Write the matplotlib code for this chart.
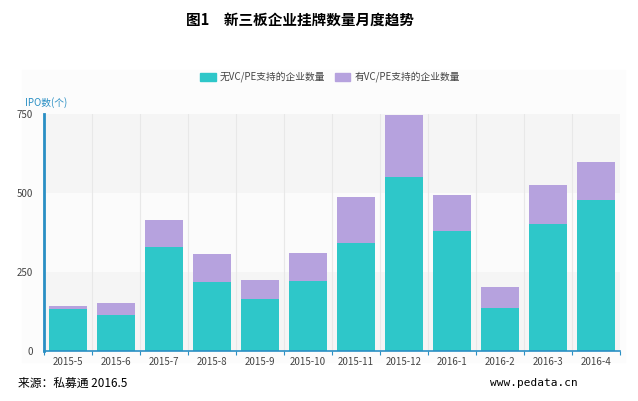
import matplotlib.pyplot as plt
import matplotlib.patches as mpatches
import numpy as np

plt.rcParams['font.family'] = ['Noto Sans CJK SC', 'DejaVu Sans']

months = ['2015-5', '2015-6', '2015-7', '2015-8', '2015-9', '2015-10',
          '2015-11', '2015-12', '2016-1', '2016-2', '2016-3', '2016-4']
no_vc = [134, 114, 328, 219, 166, 221, 342, 550, 379, 136, 401, 478]
total = [143, 151, 415, 307, 226, 310, 488, 748, 494, 203, 524, 597]
with_vc = [t - n for t, n in zip(total, no_vc)]

teal = '#2ec7c9'
purple = '#b6a2de'
axis_blue = '#2a8fc4'

fig = plt.figure(figsize=(6.38, 4.01), dpi=100)

# faint panel behind the chart
fig.patches.append(mpatches.Rectangle((22/638, 1-362/401), 603/638, 292/401,
                                      transform=fig.transFigure, color='#fcfcfc', zorder=-10))

ax = fig.add_axes([44/638, 1-351/401, 576/638, 237/401])
ax.set_facecolor('none')
x = np.arange(len(months))

# alternating bands
for lo, hi, c in [(0, 250, '#f5f5f5'), (250, 500, '#fbfbfb'), (500, 750, '#f5f5f5')]:
    ax.axhspan(lo, hi, color=c, zorder=0, lw=0)
for b in np.arange(0.5, 11.5, 1):
    ax.axvline(b, color='#e8e8e8', lw=0.8, zorder=0.5)

ax.bar(x, no_vc, width=0.8, color=teal, zorder=2)
ax.bar(x, with_vc, bottom=no_vc, width=0.8, color=purple, zorder=2)

ax.set_xlim(-0.5, 11.5)
ax.set_ylim(0, 750)
ax.set_yticks([0, 250, 500, 750])
ax.set_xticks(x)
ax.set_xticklabels(months, fontsize=7, color='#444444')
ax.tick_params(axis='x', length=0, pad=4)
ax.tick_params(axis='y', length=0, labelsize=7, labelcolor='#444444', pad=8)
ax.set_xticks(np.arange(-0.5, 12, 1), minor=True)
ax.tick_params(axis='x', which='minor', length=3, color=axis_blue, width=0.8)

for s in ['top', 'right']:
    ax.spines[s].set_visible(False)
ax.spines['left'].set_color(axis_blue)
ax.spines['left'].set_linewidth(2)
ax.spines['bottom'].set_color(axis_blue)
ax.spines['bottom'].set_linewidth(1.2)

fig.text(25/638, 1-103/401, 'IPO数(个)', fontsize=7, color=axis_blue, va='center')

handles = [mpatches.Patch(color=teal, label='无VC/PE支持的企业数量'),
           mpatches.Patch(color=purple, label='有VC/PE支持的企业数量')]
fig.legend(handles=handles, loc='center', bbox_to_anchor=(330/638, 1-77/401), ncol=2,
           frameon=False, fontsize=7, handlelength=1.6, handleheight=0.9,
           columnspacing=1.0, handletextpad=0.4, labelcolor='#444444')

fig.text(300/638, 1-20/401, '图1　新三板企业挂牌数量月度趋势', fontsize=10.5,
         fontweight='bold', ha='center', va='center')
fig.text(18/638, 1-383/401, '来源：私募通 2016.5', fontsize=8.5, va='center')
fig.text(578/638, 1-383/401, 'www.pedata.cn', fontsize=8, ha='right', va='center',
         family=['DejaVu Sans Mono'])

fig.savefig('out.png', dpi=100)
